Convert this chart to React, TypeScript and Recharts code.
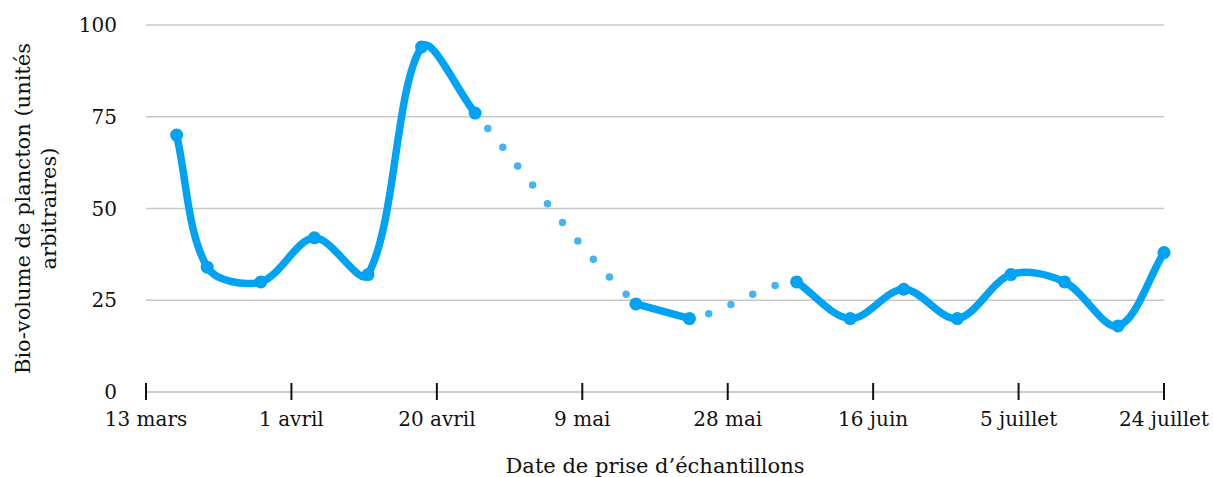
import { CartesianGrid, Label, Line, LineChart, XAxis, YAxis } from "recharts";

// Dates de prélèvement et bio-volume mesuré (unités arbitraires)
const START_DATE = "2023-03-13";
const SAMPLE_DATES = [
  "2023-03-17", "2023-03-21", "2023-03-28", "2023-04-04", "2023-04-11", "2023-04-18",
  "2023-04-25", "2023-05-16", "2023-05-23", "2023-06-06", "2023-06-13", "2023-06-20",
  "2023-06-27", "2023-07-04", "2023-07-11", "2023-07-18", "2023-07-24",
];
const BIOVOLUME = [70, 34, 30, 42, 32, 94, 76, 24, 20, 30, 20, 28, 20, 32, 30, 18, 38];
// échantillons précédés de semaines manquantes : le segment qui y mène est en pointillé
const AFTER_GAP = ["2023-05-16", "2023-06-06"];

const TICK_DATES = [
  "2023-03-13", "2023-04-01", "2023-04-20", "2023-05-09",
  "2023-05-28", "2023-06-16", "2023-07-05", "2023-07-24",
];
const TICK_LABELS = ["13 mars", "1 avril", "20 avril", "9 mai", "28 mai", "16 juin", "5 juillet", "24 juillet"];
const Y_TICKS = [0, 25, 50, 75, 100];

const FONT = "'DejaVu Serif', serif";
const LINE_COLOR = "#00a2f3";
const DOT_COLOR = "#46b3f5";

const dayOf = (iso: string) =>
  Math.round((Date.parse(iso) - Date.parse(START_DATE)) / 86400000);

const data = SAMPLE_DATES.map((d, i) => ({ day: dayOf(d), value: BIOVOLUME[i] }));
const tickDays = TICK_DATES.map(dayOf);
const labelByDay = new Map(tickDays.map((d, i) => [d, TICK_LABELS[i]]));
const isDotted = (i: number) => AFTER_GAP.includes(SAMPLE_DATES[i + 1]);

type Pt = [number, number];
const dist = (a: Pt, b: Pt) => Math.hypot(b[0] - a[0], b[1] - a[1]);

// un segment lissé façon tableur (Catmull-Rom pondéré par la longueur des cordes)
function bezierSeg(ctx: any, p0: Pt, p1: Pt, p2: Pt, p3: Pt) {
  const d01 = dist(p0, p1);
  const d12 = dist(p1, p2);
  const d23 = dist(p2, p3);
  const k1 = d01 + d12 ? d12 / (d01 + d12) / 3 : 0;
  const k2 = d12 + d23 ? d12 / (d12 + d23) / 3 : 0;
  ctx.bezierCurveTo(
    p1[0] + (p2[0] - p0[0]) * k1,
    p1[1] + (p2[1] - p0[1]) * k1,
    p2[0] - (p3[0] - p1[0]) * k2,
    p2[1] - (p3[1] - p1[1]) * k2,
    p2[0],
    p2[1],
  );
}

function makeCurve(dotted: boolean) {
  return (ctx: any) => {
    let pts: Pt[] = [];
    return {
      areaStart() {},
      areaEnd() {},
      lineStart() {
        pts = [];
      },
      point(x: number, y: number) {
        pts.push([+x, +y]);
      },
      lineEnd() {
        const n = pts.length;
        if (dotted) {
          // les trous suivent la courbe de toute la série
          for (let i = 0; i < n - 1; i++) {
            if (!isDotted(i)) continue;
            ctx.moveTo(pts[i][0], pts[i][1]);
            bezierSeg(ctx, pts[Math.max(i - 1, 0)], pts[i], pts[i + 1], pts[Math.min(i + 2, n - 1)]);
          }
          return;
        }
        // traits pleins : chaque tronçon lissé indépendamment
        let start = 0;
        for (let i = 0; i <= n - 1; i++) {
          if (i === n - 1 || isDotted(i)) {
            const run = pts.slice(start, i + 1);
            if (run.length > 1) {
              ctx.moveTo(run[0][0], run[0][1]);
              for (let j = 0; j < run.length - 1; j++) {
                bezierSeg(ctx, run[Math.max(j - 1, 0)], run[j], run[j + 1], run[Math.min(j + 2, run.length - 1)]);
              }
            }
            start = i + 1;
          }
        }
      },
    };
  };
}

const solidCurve = makeCurve(false);
const dottedCurve = makeCurve(true);

function XTick({ x, y, payload }: any) {
  return (
    <g>
      <line x1={x} x2={x} y1={y - 9} y2={y + 8} stroke="#111" strokeWidth={2} />
      <text x={x} y={y + 34} textAnchor="middle" fill="#111" fontFamily={FONT} fontSize={20}>
        {labelByDay.get(payload.value)}
      </text>
    </g>
  );
}

function YTick({ x, y, payload }: any) {
  return (
    <text x={x} y={y} dy="0.36em" textAnchor="end" fill="#111" fontFamily={FONT} fontSize={20}>
      {payload.value}
    </text>
  );
}

export default function App() {
  return (
    <div style={{ width: 1213, height: 477 }}>
      <style>{"body{margin:0}"}</style>
      <LineChart width={1213} height={477} data={data} margin={{ top: 25, right: 49, left: 0, bottom: 0 }}>
        <CartesianGrid vertical={false} stroke="#c8c8c8" strokeWidth={1.5} />
        <XAxis
          dataKey="day"
          type="number"
          domain={[0, 133]}
          ticks={tickDays}
          interval={0}
          height={85}
          tickSize={0}
          tickMargin={0}
          tickLine={false}
          axisLine={{ stroke: "#c8c8c8", strokeWidth: 1.5 }}
          tick={<XTick />}
        >
          <Label
            content={({ viewBox }: any) => (
              <text
                x={viewBox.x + viewBox.width / 2}
                y={viewBox.y + 81}
                textAnchor="middle"
                fill="#111"
                fontFamily={FONT}
                fontSize={21}
              >
                Date de prise d’échantillons
              </text>
            )}
          />
        </XAxis>
        <YAxis
          type="number"
          domain={[0, 100]}
          ticks={Y_TICKS}
          width={146}
          tickSize={0}
          tickMargin={29}
          tickLine={false}
          axisLine={false}
          tick={<YTick />}
        >
          <Label
            content={({ viewBox }: any) => (
              <g transform={`translate(30, ${viewBox.y + viewBox.height / 2}) rotate(-90)`}>
                <text textAnchor="middle" fill="#111" fontFamily={FONT} fontSize={21}>
                  <tspan x={0} y={0}>Bio-volume de plancton (unités</tspan>
                  <tspan x={0} y={26}>arbitraires)</tspan>
                </text>
              </g>
            )}
          />
        </YAxis>
        <Line
          dataKey="value"
          type={dottedCurve as any}
          stroke={DOT_COLOR}
          strokeWidth={7.5}
          strokeLinecap="round"
          strokeDasharray="0 24"
          strokeDashoffset={4}
          dot={false}
          activeDot={false}
          isAnimationActive={false}
        />
        <Line
          dataKey="value"
          type={solidCurve as any}
          stroke={LINE_COLOR}
          strokeWidth={7.5}
          strokeLinecap="round"
          strokeLinejoin="round"
          dot={{ r: 6.5, fill: LINE_COLOR, stroke: LINE_COLOR, strokeWidth: 0 }}
          activeDot={false}
          isAnimationActive={false}
        />
      </LineChart>
    </div>
  );
}
